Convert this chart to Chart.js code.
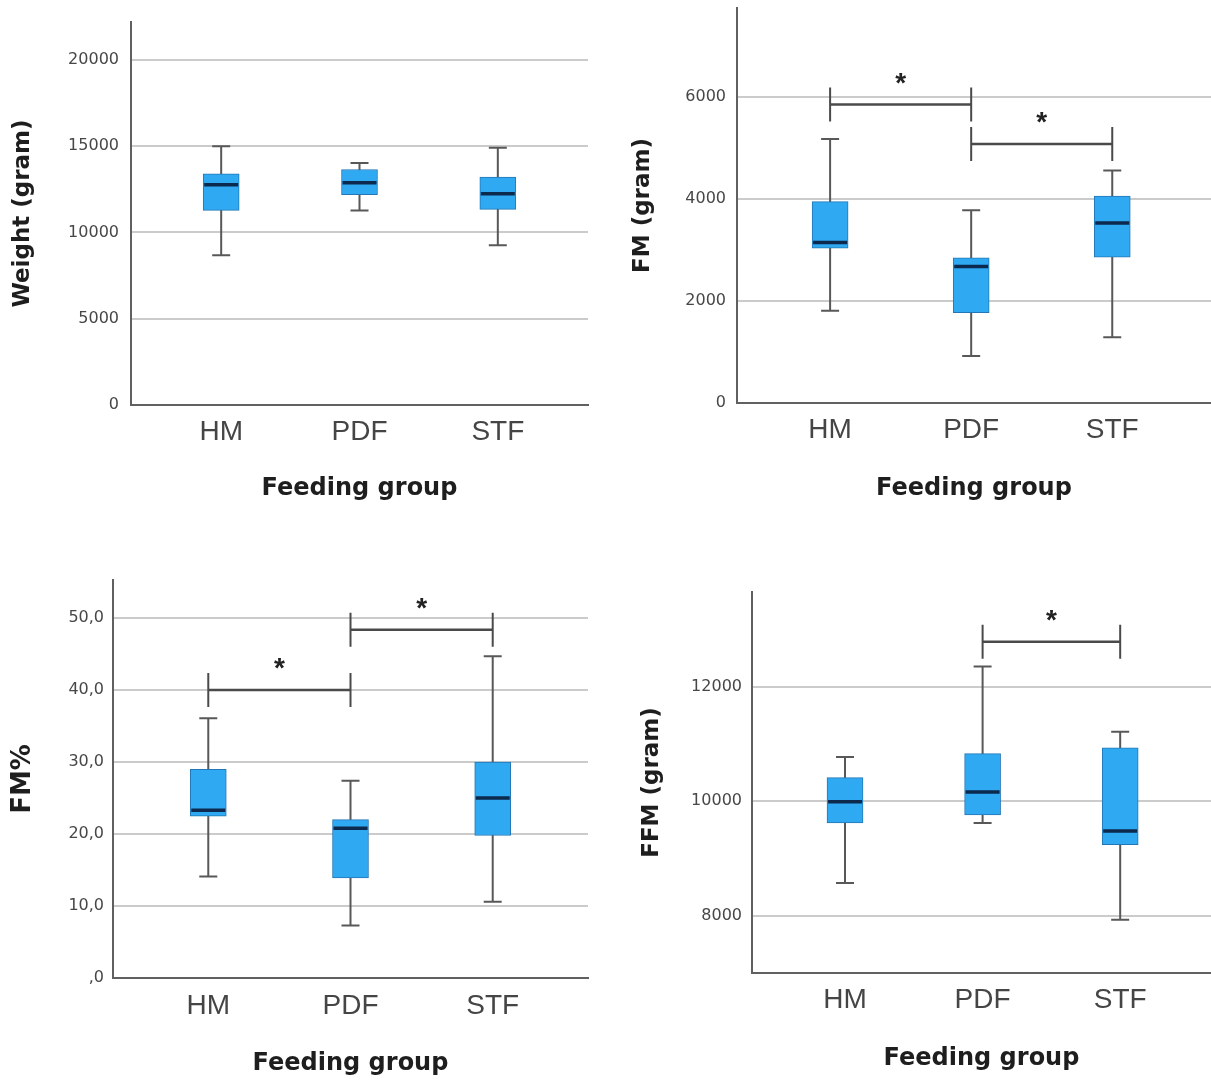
<!DOCTYPE html>
<html>
<head>
<meta charset="utf-8">
<script src="https://cdn.jsdelivr.net/npm/chart.js@4.4.1/dist/chart.umd.min.js"></script>
<style>
  html, body { margin: 0; padding: 0; background: #ffffff; }
  #wrap { position: relative; width: 1211px; height: 1080px; overflow: hidden; background: #fff; }
  canvas { position: absolute; }
</style>
</head>
<body>
<div id="wrap">
  <canvas id="c1" width="600" height="520" style="left:0px;top:0px;"></canvas>
  <canvas id="c2" width="611" height="532" style="left:600px;top:-12px;"></canvas>
  <canvas id="c3" width="600" height="540" style="left:0px;top:540px;"></canvas>
  <canvas id="c4" width="611" height="540" style="left:600px;top:540px;"></canvas>
</div>
<script>
// ---------- DATA ----------
const categories = ['HM', 'PDF', 'STF'];
const xTitle = 'Feeding group';

// Weight (gram)
const weightMin    = [8680, 11280, 9260];
const weightQ1     = [11280, 12190, 11340];
const weightMedian = [12770, 12880, 12250];
const weightQ3     = [13400, 13650, 13210];
const weightMax    = [15000, 14020, 14910];
const weightTicks      = [0, 5000, 10000, 15000, 20000];
const weightTickLabels = ['0', '5000', '10000', '15000', '20000'];
const weightBrackets   = [];

// FM (gram)
const fmMin    = [1810, 920, 1290];
const fmQ1     = [3040, 1770, 2860];
const fmMedian = [3150, 2680, 3530];
const fmQ3     = [3950, 2850, 4060];
const fmMax    = [5180, 3780, 4560];
const fmTicks      = [0, 2000, 4000, 6000];
const fmTickLabels = ['0', '2000', '4000', '6000'];
const fmBrackets   = [{from: 0, to: 1, level: 5855, label: '*'}, {from: 1, to: 2, level: 5083, label: '*'}];

// FM%
const pctMin    = [14.1, 7.3, 10.6];
const pctQ1     = [22.5, 13.9, 19.8];
const pctMedian = [23.3, 20.8, 25.0];
const pctQ3     = [29.0, 22.0, 30.0];
const pctMax    = [36.1, 27.4, 44.7];
const pctTicks      = [0, 10, 20, 30, 40, 50];
const pctTickLabels = [',0', '10,0', '20,0', '30,0', '40,0', '50,0'];
const pctBrackets   = [{from: 0, to: 1, level: 40.0, label: '*'}, {from: 1, to: 2, level: 48.4, label: '*'}];

// FFM (gram)
const ffmMin    = [8570, 9620, 7930];
const ffmQ1     = [9620, 9760, 9240];
const ffmMedian = [9990, 10160, 9480];
const ffmQ3     = [10410, 10830, 10930];
const ffmMax    = [10770, 12350, 11210];
const ffmTicks      = [8000, 10000, 12000];
const ffmTickLabels = ['8000', '10000', '12000'];
const ffmBrackets   = [{from: 1, to: 2, level: 12780, label: '*'}];

// ---------- STYLE ----------
const BOX_FILL = '#30a9f3';
const BOX_EDGE = '#2477b5';
const MEDIAN_COLOR = '#0b2a4e';
const WHISKER_COLOR = '#585858';
const GRID_COLOR = '#cbcbcb';
const AXIS_COLOR = '#606060';
const BOX_W = 36;
const CAP_W = 18;

function boxPlugin(stats, brackets) {
  return {
    id: 'boxplot',
    beforeDatasetsDraw(chart) {
      const {ctx, scales: {x, y}} = chart;
      ctx.save();
      ctx.strokeStyle = WHISKER_COLOR;
      ctx.lineWidth = 2;
      stats.min.forEach((mn, i) => {
        const px = x.getPixelForValue(i);
        const yLo = y.getPixelForValue(mn);
        const yHi = y.getPixelForValue(stats.max[i]);
        ctx.beginPath();
        ctx.moveTo(px, yLo); ctx.lineTo(px, yHi);
        ctx.moveTo(px - CAP_W / 2, yLo); ctx.lineTo(px + CAP_W / 2, yLo);
        ctx.moveTo(px - CAP_W / 2, yHi); ctx.lineTo(px + CAP_W / 2, yHi);
        ctx.stroke();
      });
      ctx.restore();
    },
    afterDatasetsDraw(chart) {
      const {ctx, scales: {x, y}} = chart;
      ctx.save();
      ctx.strokeStyle = MEDIAN_COLOR;
      ctx.lineWidth = 3.5;
      stats.median.forEach((md, i) => {
        const px = x.getPixelForValue(i);
        const py = y.getPixelForValue(md);
        ctx.beginPath();
        ctx.moveTo(px - BOX_W / 2 + 1, py); ctx.lineTo(px + BOX_W / 2 - 1, py);
        ctx.stroke();
      });
      // significance brackets
      brackets.forEach(b => {
        const x1 = x.getPixelForValue(b.from);
        const x2 = x.getPixelForValue(b.to);
        const py = y.getPixelForValue(b.level);
        ctx.strokeStyle = '#4a4a4a';
        ctx.lineWidth = 2.5;
        ctx.beginPath();
        ctx.moveTo(x1, py); ctx.lineTo(x2, py);
        ctx.stroke();
        ctx.lineWidth = 2;
        ctx.beginPath();
        ctx.moveTo(x1, py - 17); ctx.lineTo(x1, py + 17);
        ctx.moveTo(x2, py - 17); ctx.lineTo(x2, py + 17);
        ctx.stroke();
        ctx.fillStyle = '#222';
        ctx.font = 'bold 28px "Liberation Sans", Arial, sans-serif';
        ctx.textAlign = 'center';
        ctx.textBaseline = 'alphabetic';
        ctx.fillText(b.label, (x1 + x2) / 2, py - 13);
      });
      ctx.restore();
    }
  };
}

function makeChart(id, cfg) {
  const ds = {
    data: categories.map((c, i) => ({x: i, y: [cfg.q1[i], cfg.q3[i]]})),
    backgroundColor: BOX_FILL,
    borderColor: BOX_EDGE,
    borderWidth: 1,
    borderSkipped: false,
    barThickness: BOX_W
  };
  return new Chart(document.getElementById(id), {
    type: 'bar',
    data: {datasets: [ds]},
    options: {
      responsive: false,
      animation: false,
      events: [],
      layout: {padding: cfg.pad},
      plugins: {legend: {display: false}, tooltip: {enabled: false}},
      scales: {
        x: {
          type: 'linear',
          offset: false,
          min: cfg.xMin, max: cfg.xMax,
          afterBuildTicks: s => { s.ticks = categories.map((c, i) => ({value: i})); },
          afterFit: s => { s.height = cfg.xH; },
          grid: {display: false, drawTicks: false},
          border: {display: true, color: AXIS_COLOR, width: 2},
          ticks: {
            callback: v => categories[v],
            padding: cfg.xTickPad,
            maxRotation: 0,
            autoSkip: false,
            color: '#454545',
            font: {family: '"Liberation Sans", Arial, sans-serif', size: 28}
          },
          title: {
            display: true, text: xTitle, color: '#1e1e1e',
            padding: {top: 0, bottom: cfg.xTitlePad},
            font: {family: '"DejaVu Sans", sans-serif', size: 24, weight: 'bold'}
          }
        },
        y: {
          type: 'linear',
          min: cfg.yMin, max: cfg.yMax,
          afterBuildTicks: s => { s.ticks = cfg.ticks.map(v => ({value: v})); },
          afterFit: s => { s.width = cfg.yW; },
          grid: {color: GRID_COLOR, lineWidth: 2, drawTicks: false},
          border: {display: true, color: AXIS_COLOR, width: 2},
          ticks: {
            callback: v => cfg.tickLabels[cfg.ticks.indexOf(v)],
            padding: cfg.yTickPad,
            color: '#474747',
            font: {family: '"DejaVu Sans", sans-serif', size: 16, lineHeight: 1}
          },
          title: {
            display: true, text: cfg.yTitle, color: '#1e1e1e',
            padding: {top: cfg.yTitlePad, bottom: 0},
            font: {family: '"DejaVu Sans", sans-serif', size: cfg.yTitleSize || 23, weight: 'bold'}
          }
        }
      }
    },
    plugins: [boxPlugin({min: cfg.min, median: cfg.median, max: cfg.max}, cfg.brackets)]
  });
}

makeChart('c1', {
  q1: weightQ1, q3: weightQ3, min: weightMin, max: weightMax, median: weightMedian,
  ticks: weightTicks, tickLabels: weightTickLabels, brackets: weightBrackets,
  yMin: 0, yMax: 22200, xMin: -0.652, xMax: 2.652,
  pad: {left: 0, top: 22, right: 12, bottom: 0}, yW: 131, xH: 115,
  xTickPad: 10, xTitlePad: 17, yTickPad: 12, yTitlePad: 9, yTitle: 'Weight (gram)'
});
makeChart('c2', {
  q1: fmQ1, q3: fmQ3, min: fmMin, max: fmMax, median: fmMedian,
  ticks: fmTicks, tickLabels: fmTickLabels, brackets: fmBrackets,
  yMin: 0, yMax: 7750, xMin: -0.66, xMax: 2.70,
  pad: {left: 0, top: 20, right: 0, bottom: 0}, yW: 137, xH: 117,
  xTickPad: 10, xTitlePad: 17, yTickPad: 11, yTitlePad: 29, yTitle: 'FM (gram)'
});
makeChart('c3', {
  q1: pctQ1, q3: pctQ3, min: pctMin, max: pctMax, median: pctMedian,
  ticks: pctTicks, tickLabels: pctTickLabels, brackets: pctBrackets,
  yMin: 0, yMax: 55.3, xMin: -0.67, xMax: 2.67,
  pad: {left: 0, top: 40, right: 12, bottom: 0}, yW: 113, xH: 102,
  xTickPad: 11, xTitlePad: 2, yTickPad: 9, yTitlePad: 8, yTitle: 'FM%', yTitleSize: 26
});
makeChart('c4', {
  q1: ffmQ1, q3: ffmQ3, min: ffmMin, max: ffmMax, median: ffmMedian,
  ticks: ffmTicks, tickLabels: ffmTickLabels, brackets: ffmBrackets,
  yMin: 7000, yMax: 13650, xMin: -0.676, xMax: 2.66,
  pad: {left: 0, top: 52, right: 0, bottom: 0}, yW: 152, xH: 107,
  xTickPad: 10, xTitlePad: 7, yTickPad: 10, yTitlePad: 38, yTitle: 'FFM (gram)'
});
</script>
</body>
</html>
